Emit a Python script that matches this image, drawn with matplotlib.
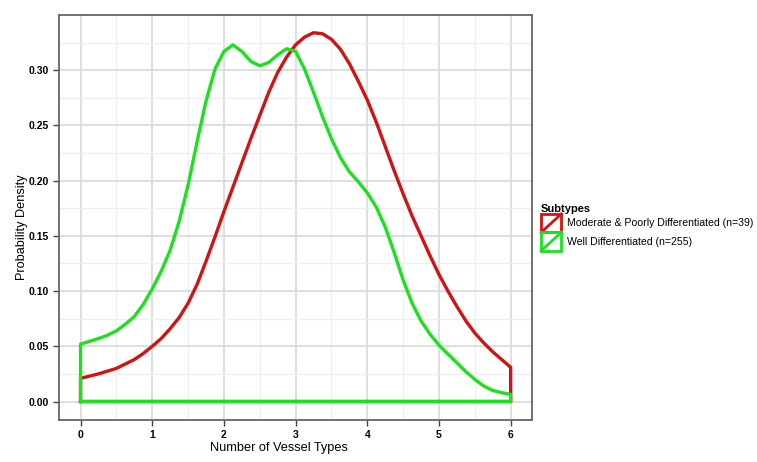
import matplotlib
matplotlib.use('Agg')
import matplotlib.pyplot as plt
import numpy as np
from matplotlib.legend_handler import HandlerBase
from matplotlib.patches import Rectangle
from matplotlib.lines import Line2D

plt.rcParams['font.family'] = ['Liberation Sans', 'DejaVu Sans']

# density curves (step 0.125 on x)
x_grid = [i * 0.125 for i in range(49)]

y_mod = [0.021, 0.023, 0.025, 0.0275, 0.030, 0.034, 0.038, 0.0435, 0.050,
         0.057, 0.066, 0.076, 0.089, 0.106, 0.127, 0.149, 0.172, 0.194,
         0.216, 0.238, 0.259, 0.280, 0.298, 0.312, 0.323, 0.330, 0.334,
         0.333, 0.328, 0.319, 0.306, 0.290, 0.273, 0.253, 0.231, 0.209,
         0.188, 0.168, 0.150, 0.132, 0.115, 0.100, 0.086, 0.073, 0.062,
         0.053, 0.045, 0.038, 0.031]

y_well = [0.052, 0.0545, 0.057, 0.060, 0.064, 0.070, 0.077, 0.088, 0.102,
          0.118, 0.137, 0.163, 0.196, 0.235, 0.272, 0.301, 0.317, 0.323,
          0.317, 0.308, 0.304, 0.307, 0.314, 0.3195, 0.317, 0.301, 0.280,
          0.258, 0.238, 0.221, 0.208, 0.199, 0.189, 0.176, 0.158, 0.135,
          0.110, 0.089, 0.073, 0.061, 0.051, 0.043, 0.035, 0.027, 0.020,
          0.014, 0.010, 0.008, 0.0065]

labels = ['Moderate & Poorly Differentiated (n=39)', 'Well Differentiated (n=255)']
colors = ['#D01414', '#1EE01E']

x_ticks = [0, 1, 2, 3, 4, 5, 6]
y_ticks = [0.00, 0.05, 0.10, 0.15, 0.20, 0.25, 0.30]


class BoxDiag(HandlerBase):
    def create_artists(self, legend, orig_handle, xdescent, ydescent,
                       width, height, fontsize, trans):
        c = orig_handle.get_color()
        r = Rectangle((-xdescent, -ydescent), width, height, fill=False,
                      ec=c, lw=2, transform=trans)
        l = Line2D([-xdescent, -xdescent + width], [-ydescent, -ydescent + height],
                   color=c, lw=2, transform=trans)
        return [r, l]


fig = plt.figure(figsize=(7.57, 4.62), dpi=100)
ax = fig.add_axes([0.078, 0.091, 0.625, 0.8765])

handles = []
for ys, col, lab in [(y_mod, colors[0], labels[0]), (y_well, colors[1], labels[1])]:
    # closed outline like geom_density: baseline, left edge, curve, right edge
    px = np.concatenate([[x_grid[0]], x_grid, [x_grid[-1], x_grid[0]]])
    py = np.concatenate([[0], ys, [0, 0]])
    h, = ax.plot(px, py, color=col, lw=2.4, label=lab, solid_joinstyle='round')
    handles.append(h)

ax.set_xlim(-0.3, 6.3)
ax.set_ylim(-0.0167, 0.35)
ax.set_xticks(x_ticks)
ax.set_yticks(y_ticks)
ax.set_yticklabels(['%.2f' % v for v in y_ticks])
ax.set_xticks(np.arange(0.5, 6, 1), minor=True)
ax.set_yticks(np.arange(0.025, 0.35, 0.05), minor=True)
ax.grid(which='major', color='#d6d6d6', lw=1.1)
ax.grid(which='minor', color='#efefef', lw=0.9)
ax.set_axisbelow(True)
ax.tick_params(which='major', direction='out', length=4, width=1, color='#444444',
               labelsize=7.5, pad=3)
ax.tick_params(which='minor', length=0)
for lab in ax.get_xticklabels() + ax.get_yticklabels():
    lab.set_fontweight('bold')
for s in ax.spines.values():
    s.set_color('#666666')
    s.set_linewidth(1.3)

ax.set_xlabel('Number of Vessel Types', fontsize=9.2)
ax.set_ylabel('Probability Density', fontsize=9.2)
ax.xaxis.set_label_coords(0.464, -0.054)
ax.yaxis.set_label_coords(-0.066, 0.475)

leg = ax.legend(handles=handles, labels=labels, handler_map={Line2D: BoxDiag()},
                loc='upper left', bbox_to_anchor=(0.708, 0.57),
                bbox_transform=fig.transFigure, frameon=False, title='Subtypes',
                fontsize=7.6, title_fontproperties={'weight': 'bold', 'size': 8},
                handlelength=1.9, handleheight=2.3, handletextpad=0.5,
                labelspacing=0.0, borderpad=0, alignment='left')

fig.savefig('out.png', dpi=100)
